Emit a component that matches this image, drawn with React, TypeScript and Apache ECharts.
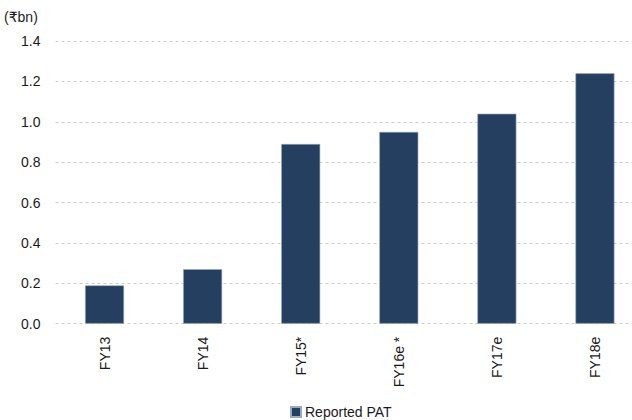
import React, { useEffect, useRef } from "react";
import * as echarts from "echarts";

const categories = ["FY13", "FY14", "FY15*", "FY16e *", "FY17e", "FY18e"];
const reportedPAT = [0.19, 0.27, 0.89, 0.95, 1.04, 1.24];
const seriesName = "Reported PAT";
const unitLabel = "(₹bn)";

const FONT = "'Liberation Sans Narrow', 'Arial Narrow', 'Liberation Sans', 'DejaVu Sans', sans-serif";

export default function App() {
  const ref = useRef<HTMLDivElement>(null);
  useEffect(() => {
    if (!ref.current) return;
    const chart = echarts.init(ref.current, null, { renderer: "svg" });
    chart.setOption({
      animation: false,
      backgroundColor: "#ffffff",
      textStyle: { fontFamily: FONT },
      grid: { left: 55.5, right: 0, top: 41, bottom: 96.3, containLabel: false },
      legend: {
        top: 400,
        left: 285,
        itemWidth: 10,
        itemHeight: 10,
        itemGap: 4,
        icon: "rect",
        textStyle: { fontFamily: FONT, fontSize: 14, color: "#1a1a1a", padding: [0, 0, 0, -1] },
        data: [seriesName],
      },
      graphic: [
        {
          type: "text",
          left: 4,
          top: 10,
          style: { text: unitLabel, font: `14px ${FONT}`, fill: "#1a1a1a" },
        },
      ],
      xAxis: {
        type: "category",
        data: categories,
        axisLine: { show: false },
        axisTick: { show: false },
        axisLabel: { rotate: 90, margin: 13, fontSize: 14, color: "#1a1a1a", fontFamily: FONT, interval: 0 },
      },
      yAxis: {
        type: "value",
        min: 0,
        max: 1.4,
        interval: 0.2,
        axisLine: { show: false },
        axisTick: { show: false },
        axisLabel: {
          margin: 15,
          fontSize: 14,
          color: "#1a1a1a",
          fontFamily: FONT,
          formatter: (v: number) => v.toFixed(1),
        },
        splitLine: { lineStyle: { color: "#cccccc", type: [3, 3], width: 1 } },
      },
      series: [
        {
          name: seriesName,
          type: "bar",
          data: reportedPAT,
          barWidth: 39,
          itemStyle: { color: "#253f60", borderColor: "#9aabc0", borderWidth: 0.6 },
        },
      ],
    });
    return () => chart.dispose();
  }, []);
  return (
    <div style={{ position: "absolute", left: 0, top: 0, width: 632, height: 420, overflow: "hidden" }}>
      <div ref={ref} style={{ position: "absolute", left: 0, top: 0, width: 644, height: 420 }} />
    </div>
  );
}
